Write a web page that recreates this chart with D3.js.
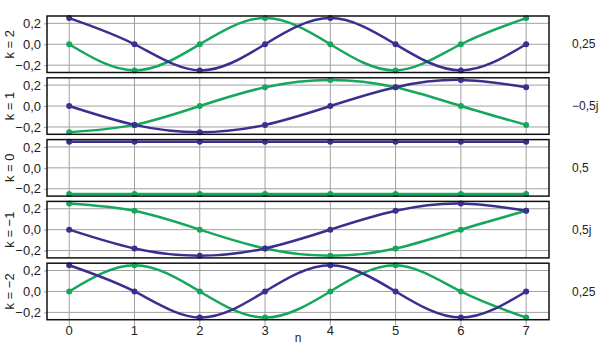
<!DOCTYPE html>
<html>
<head>
<meta charset="utf-8">
<style>
    body { margin: 0; background: #fff; }
    svg { display: block; font-family: "Liberation Sans", Arial, sans-serif; }
    .grid line { stroke: #a0a0a0; stroke-width: 1px; }
    .axis text { font-size: 13px; fill: #222; }
    .axis .domain { display: none; }
    .axis .tick line { stroke: #a0a0a0; }
</style>
</head>
<body>
<svg width="600" height="346"></svg>
<script src="https://cdnjs.cloudflare.com/ajax/libs/d3/7.8.5/d3.min.js"></script>
<script>
// sample index
let nValues = [0, 1, 2, 3, 4, 5, 6, 7];
// one panel per k, top to bottom
let kLabels = ["k = 2", "k = 1", "k = 0", "k = \u22121", "k = \u22122"];
let coefLabels = ["0,25", "\u22120,5j", "0,5", "0,5j", "0,25"];
let yTicks = [-0.2, 0, 0.2];

// dark blue series, one row per panel
let blueValues = [
    [0.25, 0, -0.25, 0, 0.25, 0, -0.25, 0],
    [0, -0.18, -0.25, -0.18, 0, 0.18, 0.25, 0.18],
    [0.25, 0.25, 0.25, 0.25, 0.25, 0.25, 0.25, 0.25],
    [0, -0.18, -0.25, -0.18, 0, 0.18, 0.25, 0.18],
    [0.25, 0, -0.25, 0, 0.25, 0, -0.25, 0]
];
// green series
let greenValues = [
    [0, -0.25, 0, 0.25, 0, -0.25, 0, 0.25],
    [-0.25, -0.18, 0, 0.18, 0.25, 0.18, 0, -0.18],
    [-0.25, -0.25, -0.25, -0.25, -0.25, -0.25, -0.25, -0.25],
    [0.25, 0.18, 0, -0.18, -0.25, -0.18, 0, 0.18],
    [0, 0.25, 0, -0.25, 0, 0.25, 0, -0.25]
];

let blueColor = "#3a2f8e";
let greenColor = "#17a75c";

let svg = d3.select("svg");

let left = 47, right = 549;
let firstTop = 16, panelH = 56.5, step = 61.8;

let locale = d3.formatLocale({ decimal: ",", thousands: ".", grouping: [3], currency: ["", ""], minus: "\u2212" });
let fmt = locale.format(".1f");

let x = d3.scaleLinear()
    .domain([-0.34, 7.35])
    .range([left, right]);

kLabels.forEach(function (label, i) {
    let top = firstTop + i * step;
    let bottom = top + panelH;

    let y = d3.scaleLinear()
        .domain([-0.27, 0.27])
        .range([bottom, top]);

    let g = svg.append("g");

    // grid
    let grid = g.append("g").attr("class", "grid");
    grid.selectAll(".v")
        .data(nValues)
        .join("line")
        .attr("x1", d => x(d))
        .attr("x2", d => x(d))
        .attr("y1", top)
        .attr("y2", i == kLabels.length - 1 ? bottom + 6 : bottom);
    grid.selectAll(".h")
        .data(yTicks)
        .join("line")
        .attr("x1", left)
        .attr("x2", right)
        .attr("y1", d => y(d))
        .attr("y2", d => y(d));

    // y axis
    g.append("g")
        .attr("class", "axis")
        .attr("transform", `translate(${left},0)`)
        .call(d3.axisLeft(y).tickValues(yTicks).tickSize(3).tickPadding(3).tickFormat(fmt));

    let line = d3.line()
        .x((d, j) => x(nValues[j]))
        .y(d => y(d))
        .curve(d3.curveNatural);

    [[greenValues[i], greenColor], [blueValues[i], blueColor]].forEach(function (s) {
        g.append("path")
            .attr("d", line(s[0]))
            .style("fill", "none")
            .style("stroke", s[1])
            .style("stroke-width", "2.5px");
        g.selectAll(null)
            .data(s[0])
            .join("circle")
            .attr("cx", (d, j) => x(nValues[j]))
            .attr("cy", d => y(d))
            .attr("r", 3)
            .style("fill", s[1]);
    });

    // frame
    g.append("rect")
        .attr("x", left)
        .attr("y", top)
        .attr("width", right - left)
        .attr("height", panelH)
        .style("fill", "none")
        .style("stroke", "#111")
        .style("stroke-width", "1.5px");

    // k label on the left
    g.append("text")
        .attr("transform", `translate(14,${(top + bottom) / 2}) rotate(-90)`)
        .attr("text-anchor", "middle")
        .style("font-size", "13px")
        .style("fill", "#222")
        .text(label);

    // coefficient on the right
    g.append("text")
        .attr("x", 572)
        .attr("y", (top + bottom) / 2)
        .attr("dy", "0.35em")
        .style("font-size", "12px")
        .style("fill", "#222")
        .text(coefLabels[i]);
});

let lastBottom = firstTop + (kLabels.length - 1) * step + panelH;

// x tick labels
svg.append("g")
    .attr("class", "axis")
    .selectAll("text")
    .data(nValues)
    .join("text")
    .attr("x", d => x(d))
    .attr("y", lastBottom + 15)
    .attr("text-anchor", "middle")
    .text(d => d);

svg.append("text")
    .attr("x", (left + right) / 2)
    .attr("y", lastBottom + 22)
    .attr("text-anchor", "middle")
    .style("font-size", "12px")
    .style("fill", "#222")
    .text("n");
</script>
</body>
</html>
